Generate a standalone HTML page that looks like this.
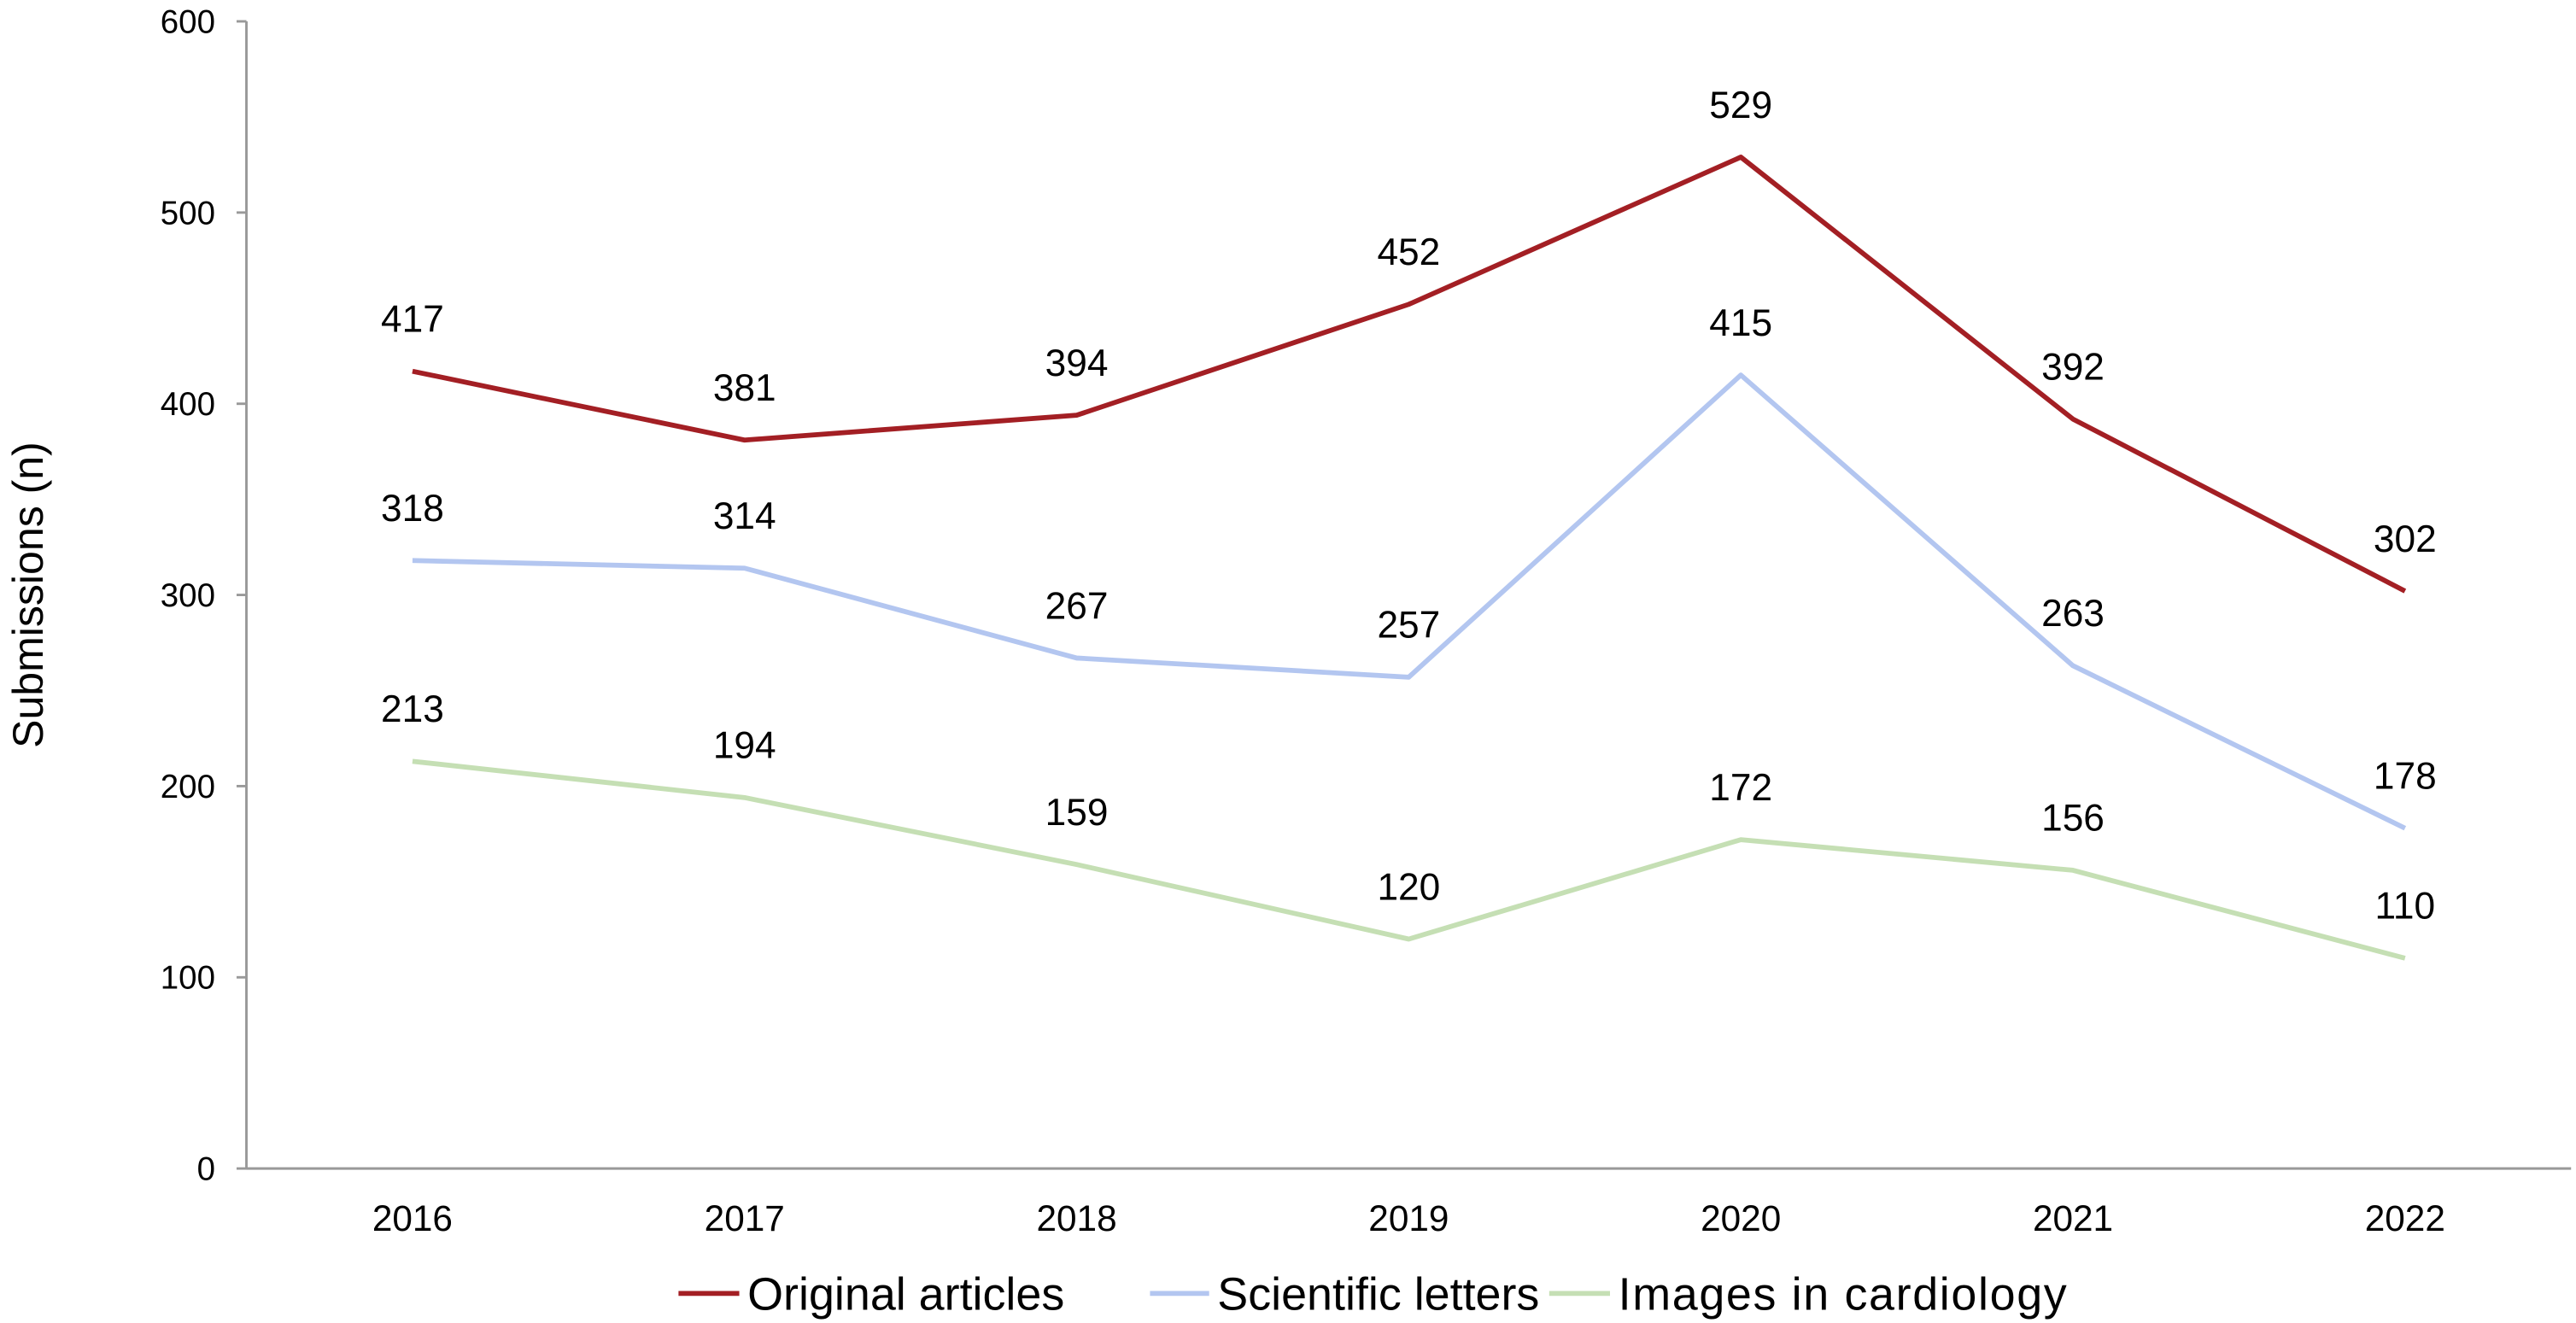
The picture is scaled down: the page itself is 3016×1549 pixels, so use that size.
<!DOCTYPE html>
<html><head><meta charset="utf-8"><style>
html,body{margin:0;padding:0;background:#fff;}
svg{display:block;font-family:"Liberation Sans",Arial,sans-serif;}
</style></head><body>
<svg id="chart" width="3016" height="1549" viewBox="0 0 1568 805" preserveAspectRatio="none" xmlns="http://www.w3.org/2000/svg">
<g id="axes"></g>
<g id="series"></g>
<text transform="translate(26,362) rotate(-90)" text-anchor="middle" font-size="26" fill="#000">Submissions (n)</text>
<g font-size="28">
<g><line x1="413" y1="787" x2="450" y2="787" stroke="#a31f24" stroke-width="3"/><text x="455" y="797">Original articles</text></g>
<g><line x1="700" y1="787" x2="736" y2="787" stroke="#b3c6f0" stroke-width="3"/><text x="741" y="797">Scientific letters</text></g>
<g><line x1="943" y1="787" x2="980" y2="787" stroke="#c5dfb4" stroke-width="3"/><text x="985" y="797" textLength="273">Images in cardiology</text></g>
</g>
</svg>
<script>
const categories = ["2016","2017","2018","2019","2020","2021","2022"];
const originalArticles = [417,381,394,452,529,392,302];
const scientificLetters = [318,314,267,257,415,263,178];
const imagesInCardiology = [213,194,159,120,172,156,110];
const yTicks = [0,100,200,300,400,500,600];

const NS="http://www.w3.org/2000/svg";
const x0=150,x1=1565,yTop=13,yBot=711,yMax=600;
const band=(x1-x0)/categories.length;
const xs=i=>x0+band*(i+0.5);
const ys=v=>yBot-(v/yMax)*(yBot-yTop);
function mk(tag,attrs,parent){const e=document.createElementNS(NS,tag);for(const k in attrs)e.setAttribute(k,attrs[k]);parent.appendChild(e);return e;}
const axes=document.getElementById('axes');
const yAxis=mk('line',{x1:x0,y1:yTop,x2:x0,y2:yBot,stroke:'#999','stroke-width':1.5},axes);


const xAxis=mk('line',{x1:x0,y1:yBot,x2:x1,y2:yBot,stroke:'#999','stroke-width':1.5},axes);


yTicks.forEach(t=>{
  const y=ys(t);
  const tk=mk('line',{x1:x0-6,y1:y,x2:x0,y2:y,stroke:'#999','stroke-width':1.5},axes);
  
  
  const lb=mk('text',{x:131,y:y+7,'text-anchor':'end','font-size':20,fill:'#000'},axes);
  
  
  lb.textContent=t;
});
categories.forEach((c,i)=>{
  const lb=mk('text',{x:xs(i),y:749,'text-anchor':'middle','font-size':22,fill:'#000'},axes);
  
  
  lb.textContent=c;
});
const sg=document.getElementById('series');
[[originalArticles,'#a31f24','original-articles'],[scientificLetters,'#b3c6f0','scientific-letters'],[imagesInCardiology,'#c5dfb4','images-in-cardiology']].forEach(([vals,col,name])=>{
  const pts=vals.map((v,i)=>xs(i)+','+ys(v)).join(' ');
  const pl=mk('polyline',{points:pts,fill:'none',stroke:col,'stroke-width':3,'stroke-linejoin':'round'},sg);
  
  
  vals.forEach((v,i)=>{
    const t=mk('text',{x:xs(i),y:ys(v)-24,'text-anchor':'middle','font-size':23,fill:'#000'},sg);
    
    
    t.textContent=v;
  });
});
</script>
</body></html>
